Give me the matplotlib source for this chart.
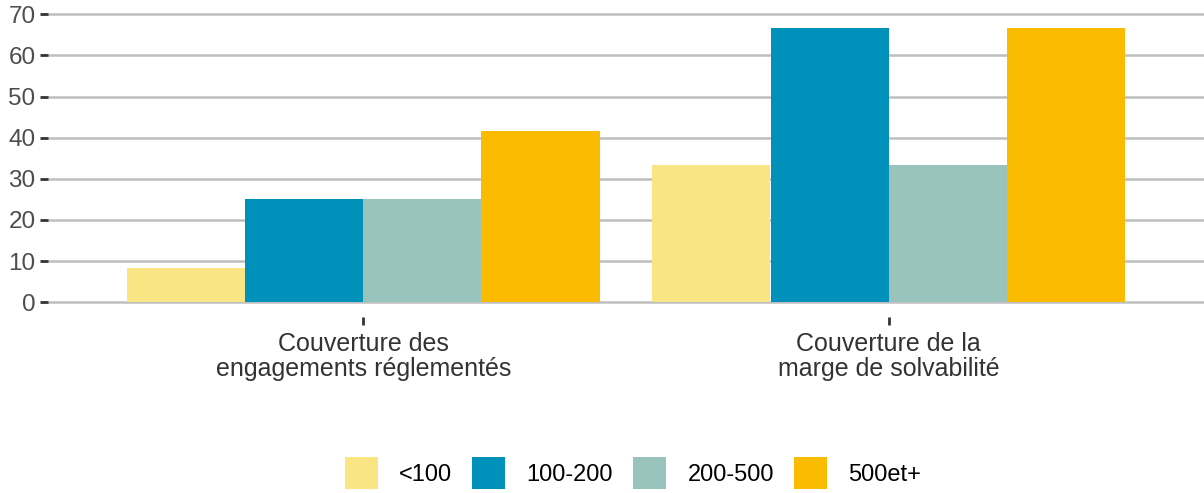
#!/usr/bin/env python

import matplotlib
matplotlib.use('Agg')
import matplotlib.pyplot as plt
from matplotlib.patches import Patch
import numpy as np

categories = ['Couverture des\nengagements réglementés',
              'Couverture de la\nmarge de solvabilité']
series = ['<100', '100-200', '200-500', '500et+']
values = {
    '<100': [8.33, 33.33],
    '100-200': [25.0, 66.67],
    '200-500': [25.0, 33.33],
    '500et+': [41.67, 66.67],
}
colors = ['#F9E584', '#0091BB', '#98C4BD', '#FABB00']
yticks = [0, 10, 20, 30, 40, 50, 60, 70]

matplotlib.rc('font', family=['Liberation Sans', 'DejaVu Sans'], size=18)


def create_plot():
    fig = plt.figure(figsize=(12.04, 4.93), dpi=100)
    ax = fig.add_axes([48 / 1204, 1 - 316.5 / 493, 1 - 48 / 1204, 316.5 / 493])

    x = np.arange(1, len(categories) + 1)
    w = 0.9 / len(series)
    for i, (name, col) in enumerate(zip(series, colors)):
        ax.bar(x - 0.45 + w * (i + 0.5), values[name], width=w, color=col,
               zorder=2, linewidth=0)

    ax.set_xlim(0.4, 2.6)
    ax.set_ylim(-3.5, 73.5)
    ax.set_yticks(yticks)
    ax.set_xticks(x)
    ax.set_xticklabels(categories, color='#4D4D4D', linespacing=1.05)
    ax.tick_params(axis='y', colors='#333333', labelcolor='#4D4D4D',
                   length=6, width=2, pad=3, labelsize=17.5)
    ax.tick_params(axis='x', colors='#333333', length=6, width=2, pad=5)
    ax.grid(axis='y', color='#BEBEBE', linewidth=1.8, zorder=0)
    for s in ax.spines.values():
        s.set_visible(False)

    handles = [Patch(facecolor=c, edgecolor='none') for c in colors]
    fig.legend(handles, series, loc='center', bbox_to_anchor=(633 / 1204, 1 - 473 / 493),
               ncol=4, frameon=False, fontsize=17, handlelength=1.4, handleheight=1.65,
               handletextpad=0.9, columnspacing=0.85, borderpad=0)

    fig.savefig('out.png', dpi=100)


if __name__ == "__main__":
    create_plot()
